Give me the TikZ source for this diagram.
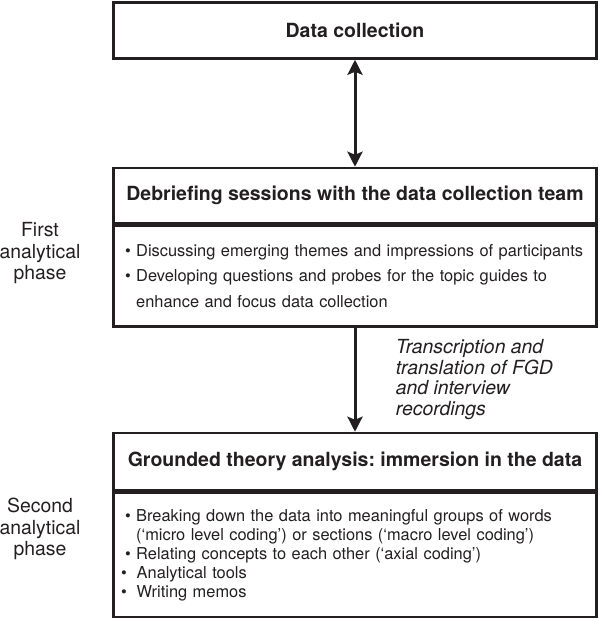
\documentclass[tikz,border=0pt]{standalone}
\usepackage{fontspec}
\setmainfont{TeX Gyre Heros}
\usetikzlibrary{positioning, arrows.meta}
\definecolor{ink}{RGB}{35,31,32}
\frenchspacing
\newcommand{\bul}{\textbullet\ }
\newcommand{\ind}{\hphantom{\textbullet\ }}
\newcommand{\farbul}{\hspace*{-4pt}\textbullet\hspace{10pt}}

\begin{document}
\begin{tikzpicture}[x=1pt, y=-1pt, node distance=0pt, auto,
    box/.style={draw=ink, line width=2.5pt, minimum width=483pt, inner sep=0pt, text=ink},
    head/.style={box, font=\bfseries\fontsize{19.5}{22}\selectfont},
    body/.style={box, align=left, text width=460pt, inner xsep=11.5pt},
    phase/.style={align=center, text=ink, font=\fontsize{19.4}{21.5}\selectfont},
    link/.style={draw=ink, line width=3pt, -{Stealth[length=15pt, width=15pt, inset=3pt]}}]
  \useasboundingbox (0,0) rectangle (600,618);

  \node[head, minimum height=56pt] (collect) at (355,30.5) {Data collection};
  \node[head, minimum height=55pt] (debrief) at (355,195.5) {Debriefing sessions with the data collection team};
  \node[body, minimum height=101pt, font=\fontsize{16.4}{25.5}\selectfont, below=of debrief] (debriefbody)
    {\bul Discussing emerging themes and impressions of participants\\
     \bul Developing questions and probes for the topic guides to\\
     \ind enhance and focus data collection};
  \node[head, minimum height=57pt] (grounded) at (355,461.5) {Grounded theory analysis: immersion in the data};
  \node[body, minimum height=125pt, font=\fontsize{16.4}{19}\selectfont, below=of grounded] (groundedbody)
    {\bul Breaking down the data into meaningful groups of words\\
     \ind(‘micro level coding’) or sections (‘macro level coding’)\\
     \bul Relating concepts to each other (‘axial coding’)\\
     \farbul Analytical tools\\
     \farbul Writing memos};

  \node[phase] (first) at (40,253.5) {First\\analytical\\phase};
  \node[phase] (second) at (40,529) {Second\\analytical\\phase};

  \draw[link, {Stealth[length=15pt, width=15pt, inset=3pt]}-{Stealth[length=15pt, width=15pt, inset=3pt]}] (collect) to (debrief);
  \draw[link] (debriefbody) to node[right=36pt, align=left, text=ink, font=\itshape\fontsize{19.4}{20.5}\selectfont]
    {Transcription and\\translation of FGD\\and interview\\recordings} (grounded);
\end{tikzpicture}
\end{document}
